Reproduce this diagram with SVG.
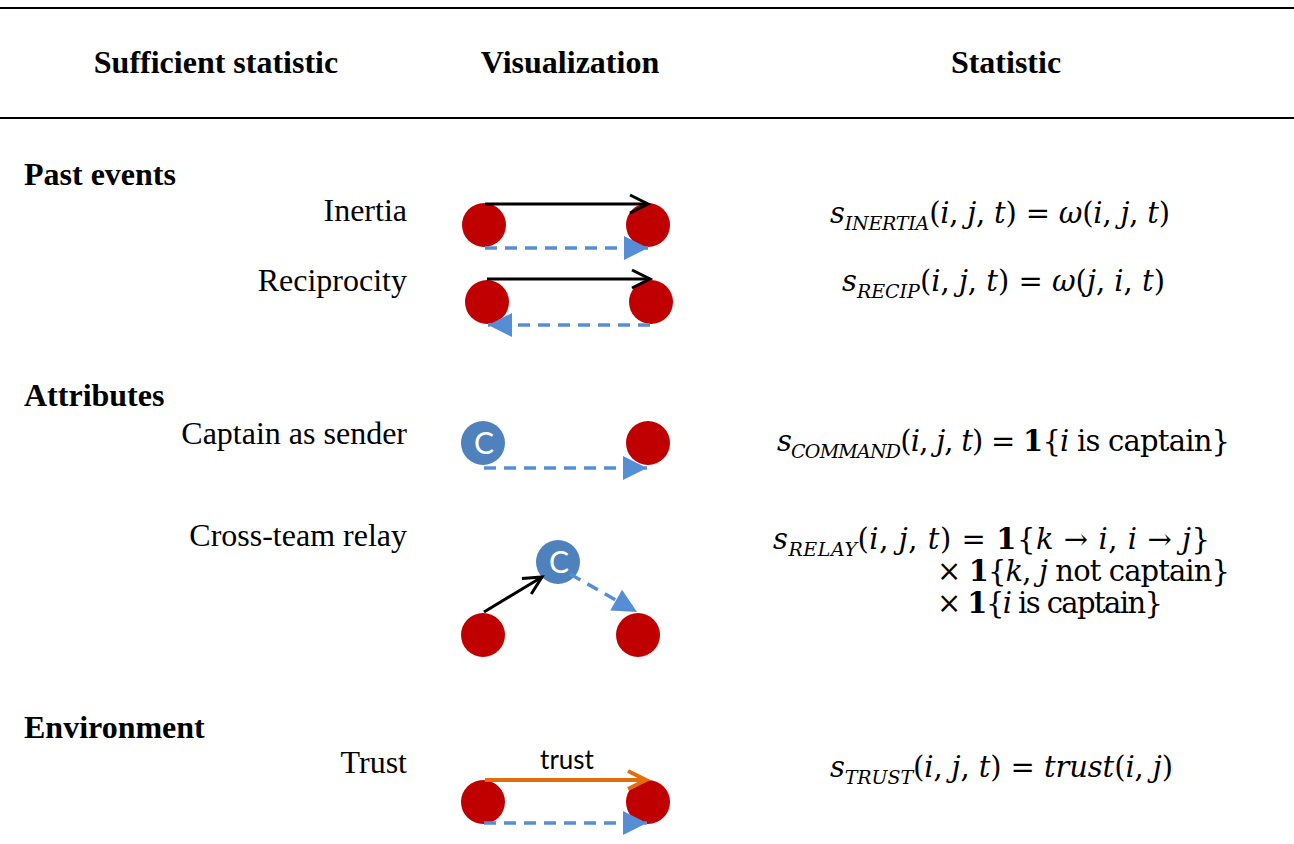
<svg xmlns="http://www.w3.org/2000/svg" width="1294" height="844" viewBox="0 0 1294 844">
<style>
.hdr{font-family:"Liberation Serif",serif;font-weight:bold;font-size:32px;fill:#000}
.lbl{font-family:"Liberation Serif",serif;font-size:32px;fill:#000}
.f{font-family:"DejaVu Serif",serif;font-size:29px;fill:#000}
.i{font-style:italic}
.b{font-weight:bold}
.sub{font-style:italic;font-size:19px}
.red{fill:#C00000}
.cap{fill:#4F81BD}
.ctxt{font-family:Lato,"Open Sans",sans-serif;font-size:30px;fill:#fff;text-anchor:middle}
.blk{stroke:#000;stroke-width:3;fill:none}
.dash{stroke:#558ED5;stroke-width:3.5;stroke-dasharray:12 8;fill:none}
.org{stroke:#E46C0A;stroke-width:4;fill:none}
.rule{stroke:#000;stroke-width:2}
</style>
<defs>
<marker id="chev" markerUnits="userSpaceOnUse" markerWidth="26" markerHeight="26" viewBox="-22 -13 26 26" refX="0" refY="0" orient="auto"><path d="M-18,-9 L0,0 L-18,9" fill="none" stroke="#000" stroke-width="3"/></marker>
<marker id="chevo" markerUnits="userSpaceOnUse" markerWidth="26" markerHeight="26" viewBox="-22 -13 26 26" refX="0" refY="0" orient="auto"><path d="M-18,-9 L0,0 L-18,9" fill="none" stroke="#E46C0A" stroke-width="4"/></marker>
<marker id="tri" markerUnits="userSpaceOnUse" markerWidth="30" markerHeight="30" viewBox="-27 -15 30 30" refX="0" refY="0" orient="auto"><path d="M-24,-12 L0,0 L-24,12 Z" fill="#558ED5"/></marker>
</defs>
<rect width="1294" height="844" fill="#fff"/>
<line class="rule" x1="0" y1="8" x2="1294" y2="8"/>
<line class="rule" x1="0" y1="118" x2="1294" y2="118"/>
<g id="headers">
<text class="hdr" x="216" y="73" text-anchor="middle">Sufficient statistic</text>
<text class="hdr" x="570" y="73" text-anchor="middle">Visualization</text>
<text class="hdr" x="1006" y="73" text-anchor="middle">Statistic</text>
</g>
<g id="sections">
<text class="hdr" x="24" y="185">Past events</text>
<text class="hdr" x="24" y="406">Attributes</text>
<text class="hdr" x="24" y="738">Environment</text>
</g>
<g id="labels" text-anchor="end">
<text class="lbl" x="407" y="221">Inertia</text>
<text class="lbl" x="407" y="291">Reciprocity</text>
<text class="lbl" x="407" y="444">Captain as sender</text>
<text class="lbl" x="407" y="546">Cross-team relay</text>
<text class="lbl" x="407" y="773">Trust</text>
</g>
<g id="nodes">
<g id="inertia-i"><circle class="red" cx="484" cy="225" r="22"/></g>
<g id="inertia-j"><circle class="red" cx="648" cy="225" r="22"/></g>
<g id="recip-i"><circle class="red" cx="487" cy="302" r="22"/></g>
<g id="recip-j"><circle class="red" cx="651" cy="302" r="22"/></g>
<g id="cmd-i"><circle class="cap" cx="483" cy="443" r="22"/><text class="ctxt" x="484" y="454">C</text></g>
<g id="cmd-j"><circle class="red" cx="648" cy="443" r="22"/></g>
<g id="relay-k"><circle class="red" cx="483" cy="635" r="22"/></g>
<g id="relay-i"><circle class="cap" cx="558" cy="562" r="22"/><text class="ctxt" x="559" y="573">C</text></g>
<g id="relay-j"><circle class="red" cx="638" cy="635" r="22"/></g>
<g id="trust-i"><circle class="red" cx="483" cy="802" r="22"/></g>
<g id="trust-j"><circle class="red" cx="648" cy="802" r="22"/></g>
</g>
<g id="connectors">
<line class="blk" x1="485" y1="204" x2="648" y2="204" marker-end="url(#chev)"/>
<line class="dash" x1="485" y1="248" x2="648" y2="248" marker-end="url(#tri)"/>
<line class="blk" x1="487" y1="279" x2="650" y2="279" marker-end="url(#chev)"/>
<line class="dash" x1="650" y1="325" x2="488" y2="325" marker-end="url(#tri)"/>
<line class="dash" x1="484" y1="468" x2="647" y2="468" marker-end="url(#tri)"/>
<line class="blk" x1="484" y1="612" x2="542" y2="577" marker-end="url(#chev)"/>
<line class="dash" x1="570" y1="574" x2="637" y2="612" marker-end="url(#tri)"/>
<line class="org" x1="485" y1="780" x2="646" y2="780" marker-end="url(#chevo)"/>
<text x="567" y="769" font-family="Lato,'Open Sans',sans-serif" font-size="26" text-anchor="middle" fill="#000">trust</text>
<line class="dash" x1="484" y1="823" x2="647" y2="823" marker-end="url(#tri)"/>
</g>
<g id="formulas">
<text class="f" x="830" y="223" textLength="340" lengthAdjust="spacing"><tspan class="i">s</tspan><tspan class="sub" dy="7">INERTIA</tspan><tspan dy="-7">(</tspan><tspan class="i">i</tspan>, <tspan class="i">j</tspan>, <tspan class="i">t</tspan>) = <tspan class="i">ω</tspan>(<tspan class="i">i</tspan>, <tspan class="i">j</tspan>, <tspan class="i">t</tspan>)</text>
<text class="f" x="842" y="291" textLength="323" lengthAdjust="spacing"><tspan class="i">s</tspan><tspan class="sub" dy="7">RECIP</tspan><tspan dy="-7">(</tspan><tspan class="i">i</tspan>, <tspan class="i">j</tspan>, <tspan class="i">t</tspan>) = <tspan class="i">ω</tspan>(<tspan class="i">j</tspan>, <tspan class="i">i</tspan>, <tspan class="i">t</tspan>)</text>
<text class="f" x="777" y="451" textLength="453" lengthAdjust="spacing"><tspan class="i">s</tspan><tspan class="sub" dy="7">COMMAND</tspan><tspan dy="-7">(</tspan><tspan class="i">i</tspan>, <tspan class="i">j</tspan>, <tspan class="i">t</tspan>) = <tspan class="b">1</tspan>{<tspan class="i">i</tspan> is captain}</text>
<text class="f" x="773" y="549" textLength="437" lengthAdjust="spacing"><tspan class="i">s</tspan><tspan class="sub" dy="7">RELAY</tspan><tspan dy="-7">(</tspan><tspan class="i">i</tspan>, <tspan class="i">j</tspan>, <tspan class="i">t</tspan>) = <tspan class="b">1</tspan>{<tspan class="i">k</tspan> → <tspan class="i">i</tspan>, <tspan class="i">i</tspan> → <tspan class="i">j</tspan>}</text>
<text class="f" x="937" y="581" textLength="293" lengthAdjust="spacing">× <tspan class="b">1</tspan>{<tspan class="i">k</tspan>, <tspan class="i">j</tspan> not captain}</text>
<text class="f" x="937" y="613" textLength="226" lengthAdjust="spacing">× <tspan class="b">1</tspan>{<tspan class="i">i</tspan> is captain}</text>
<text class="f" x="830" y="777" textLength="343" lengthAdjust="spacing"><tspan class="i">s</tspan><tspan class="sub" dy="7">TRUST</tspan><tspan dy="-7">(</tspan><tspan class="i">i</tspan>, <tspan class="i">j</tspan>, <tspan class="i">t</tspan>) = <tspan class="i">trust</tspan>(<tspan class="i">i</tspan>, <tspan class="i">j</tspan>)</text>
</g>
</svg>
